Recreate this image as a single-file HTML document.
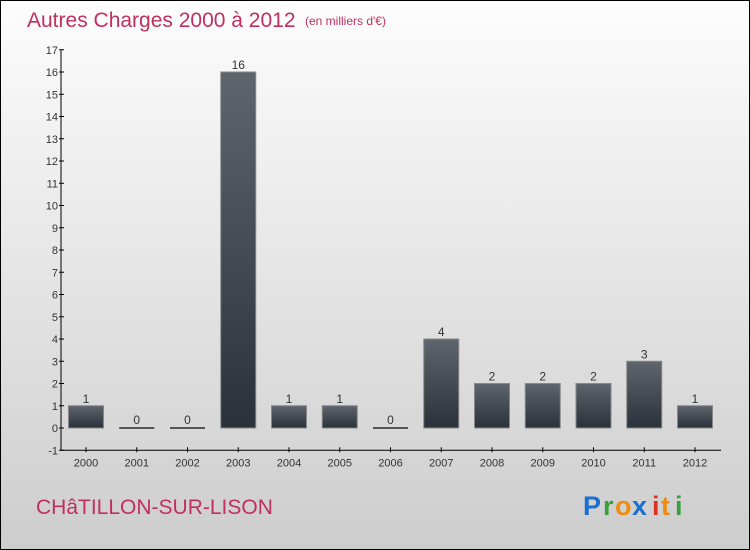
<!DOCTYPE html>
<html><head><meta charset="utf-8"><style>
body{margin:0}
#wrap{width:750px;height:550px;position:relative;overflow:hidden}
svg{display:block;font-family:"Liberation Sans",sans-serif}
</style></head><body>
<div id="wrap">
<svg id="chart" width="750" height="550">
<defs>
<linearGradient id="bg" x1="0" y1="0" x2="0" y2="1"><stop offset="0" stop-color="#fdfdfd"/><stop offset="1" stop-color="#cdcdcd"/></linearGradient>
<linearGradient id="bar" x1="0" y1="0" x2="0" y2="1"><stop offset="0" stop-color="#5f656c"/><stop offset="1" stop-color="#2b3139"/></linearGradient>
</defs>
<rect x="0.5" y="0.5" width="749" height="549" fill="url(#bg)" stroke="#000"/>
<text x="27" y="27" font-size="21" fill="#c0305f">Autres Charges 2000 à 2012</text>
<text x="305" y="25" font-size="12" fill="#c0305f">(en milliers d'€)</text>
<text x="36" y="514" font-size="21" fill="#c0305f">CHâTILLON-SUR-LISON</text>
<g font-size="27" font-weight="bold">
<text x="583" y="515" fill="#1a6fd1">P</text><text x="603" y="515" fill="#3aa03a">r</text><text x="615" y="515" fill="#f08a10">o</text><text x="632" y="515" fill="#1a6fd1">x</text><text x="652" y="515" fill="#e03020">i</text><text x="661" y="515" fill="#f08a10">t</text><text x="675" y="515" fill="#3aa03a">i</text>
</g>
<g id="plot"></g>
</svg>
</div>
<script>
const categories=["2000","2001","2002","2003","2004","2005","2006","2007","2008","2009","2010","2011","2012"];
const values=[1,0,0,16,1,1,0,4,2,2,2,3,1];
const yTicks=[-1,0,1,2,3,4,5,6,7,8,9,10,11,12,13,14,15,16,17];
const NS="http://www.w3.org/2000/svg";
const g=document.getElementById('plot');
const y0=428,unit=22.25,xLeft=61,xRight=721,step=50.75,firstX=86,bw=35;
const y=v=>y0-v*unit;
const x=i=>firstX+i*step;
function mk(t,a){const e=document.createElementNS(NS,t);for(const k in a)e.setAttribute(k,a[k]);g.appendChild(e);return e;}
let e=mk('line',{x1:xLeft,y1:y(17),x2:xLeft,y2:y(-1),stroke:'#000'});


e=mk('line',{x1:xLeft,y1:y(-1),x2:xRight,y2:y(-1),stroke:'#000'});


yTicks.forEach(t=>{
 let l=mk('line',{x1:xLeft-2,y1:y(t),x2:xLeft+3,y2:y(t),stroke:'#000'});
 
 
 let tx=mk('text',{x:xLeft-3,y:y(t)+4,'font-size':11,fill:'#333','text-anchor':'end'});
 tx.textContent=t;
 
 
});
categories.forEach((c,i)=>{
 const cx=x(i),v=values[i];
 let l=mk('line',{x1:cx,y1:y(-1)-3,x2:cx,y2:y(-1)+2,stroke:'#000'});
 
 
 let tx=mk('text',{x:cx,y:y(-1)+16,'font-size':11,fill:'#333','text-anchor':'middle'});
 tx.textContent=c;
 
 
 const top=v>0?y(v):y(0)-1,h=v>0?y(0)-y(v):2;
 let r=mk('rect',{x:cx-bw/2,y:top,width:bw,height:h,fill:v>0?'url(#bar)':'#555',stroke:'#888','stroke-width':v>0?1:0});
 
 
 let vl=mk('text',{x:cx,y:top-3,'font-size':12,fill:'#333','text-anchor':'middle'});
 vl.textContent=v;
 
 
});
</script>
</body></html>
